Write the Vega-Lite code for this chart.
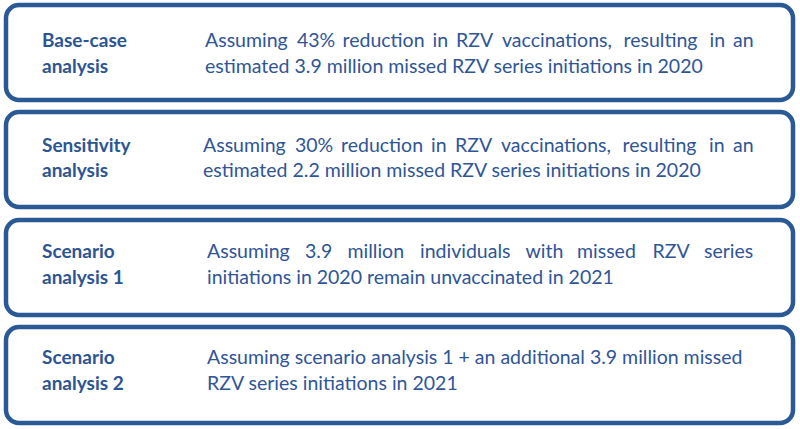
{
  "$schema": "https://vega.github.io/schema/vega-lite/v6.json",
  "width": 800,
  "height": 429,
  "autosize": {"type": "fit", "contains": "padding"},
  "padding": 0,
  "background": "white",
  "config": {"view": {"stroke": null}},
  "datasets": {
    "boxes": [
      {"box": "Base-case analysis", "x0": 6, "x1": 793, "y0": 5, "y1": 100},
      {"box": "Sensitivity analysis", "x0": 6, "x1": 793, "y0": 112, "y1": 207},
      {"box": "Scenario analysis 1", "x0": 6, "x1": 793, "y0": 220, "y1": 315},
      {"box": "Scenario analysis 2", "x0": 6, "x1": 793, "y0": 327, "y1": 423}
    ],
    "labels": [
      {"text": "Base-case", "x": 42, "y": 41},
      {"text": "analysis", "x": 42, "y": 67},
      {"text": "Sensitivity", "x": 42, "y": 146},
      {"text": "analysis", "x": 42, "y": 171},
      {"text": "Scenario", "x": 42, "y": 252},
      {"text": "analysis 1", "x": 42, "y": 278},
      {"text": "Scenario", "x": 42, "y": 358},
      {"text": "analysis 2", "x": 42, "y": 384}
    ],
    "lines": [
      {"text": "estimated 3.9 million missed RZV series initiations in 2020", "x": 205, "y": 67},
      {"text": "estimated 2.2 million missed RZV series initiations in 2020", "x": 203, "y": 171},
      {"text": "initiations in 2020 remain unvaccinated in 2021", "x": 207, "y": 278},
      {"text": "Assuming scenario analysis 1 + an additional 3.9 million missed", "x": 207, "y": 358},
      {"text": "RZV series initiations in 2021", "x": 207, "y": 384}
    ],
    "words": [
      {"text": "Assuming", "x": 205, "y": 41},
      {"text": "43%", "x": 297, "y": 41},
      {"text": "reduction", "x": 342.5, "y": 41},
      {"text": "in", "x": 432.5, "y": 41},
      {"text": "RZV", "x": 456, "y": 41},
      {"text": "vaccinations,", "x": 502, "y": 41},
      {"text": "resulting", "x": 623.5, "y": 41},
      {"text": "in", "x": 709.5, "y": 41},
      {"text": "an", "x": 733, "y": 41},
      {"text": "Assuming", "x": 203, "y": 146},
      {"text": "30%", "x": 295, "y": 146},
      {"text": "reduction", "x": 341, "y": 146},
      {"text": "in", "x": 431, "y": 146},
      {"text": "RZV", "x": 455, "y": 146},
      {"text": "vaccinations,", "x": 501, "y": 146},
      {"text": "resulting", "x": 622.5, "y": 146},
      {"text": "in", "x": 709, "y": 146},
      {"text": "an", "x": 733, "y": 146},
      {"text": "Assuming", "x": 207, "y": 252},
      {"text": "3.9", "x": 305, "y": 252},
      {"text": "million", "x": 347.5, "y": 252},
      {"text": "individuals", "x": 420, "y": 252},
      {"text": "with", "x": 525.5, "y": 252},
      {"text": "missed", "x": 577, "y": 252},
      {"text": "RZV", "x": 652.5, "y": 252},
      {"text": "series", "x": 704, "y": 252}
    ]
  },
  "layer": [
    {
      "data": {"name": "boxes"},
      "mark": {"type": "rect", "fill": "white", "stroke": "#2b5995", "strokeWidth": 4.5, "cornerRadius": 13},
      "encoding": {
        "x": {"field": "x0", "type": "quantitative", "scale": {"domain": [0, 800], "nice": false, "zero": false}, "axis": null},
        "x2": {"field": "x1"},
        "y": {"field": "y0", "type": "quantitative", "scale": {"domain": [429, 0], "nice": false, "zero": false}, "axis": null},
        "y2": {"field": "y1"}
      }
    },
    {
      "data": {"name": "labels"},
      "mark": {"type": "text", "align": "left", "baseline": "middle", "font": "Lato", "fontSize": 19, "fontWeight": "bold", "color": "#2c5593"},
      "encoding": {
        "x": {"field": "x", "type": "quantitative"},
        "y": {"field": "y", "type": "quantitative"},
        "text": {"field": "text"}
      }
    },
    {
      "data": {"name": "lines"},
      "mark": {"type": "text", "align": "left", "baseline": "middle", "font": "Lato", "fontSize": 19.5, "color": "#2f5597"},
      "encoding": {
        "x": {"field": "x", "type": "quantitative"},
        "y": {"field": "y", "type": "quantitative"},
        "text": {"field": "text"}
      }
    },
    {
      "data": {"name": "words"},
      "mark": {"type": "text", "align": "left", "baseline": "middle", "font": "Lato", "fontSize": 19.5, "color": "#2f5597"},
      "encoding": {
        "x": {"field": "x", "type": "quantitative"},
        "y": {"field": "y", "type": "quantitative"},
        "text": {"field": "text"}
      }
    }
  ]
}
